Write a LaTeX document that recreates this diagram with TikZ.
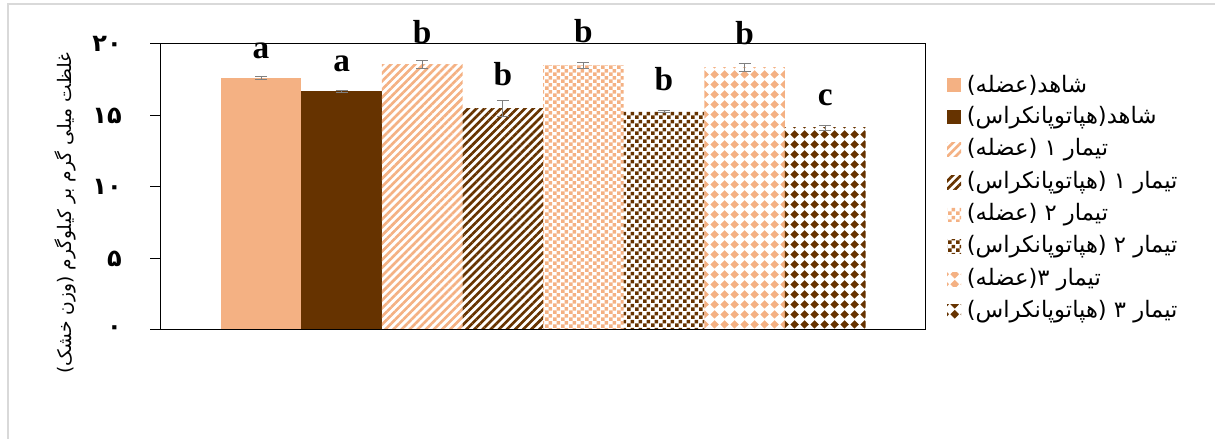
\documentclass[tikz,border=0pt]{standalone}
\usepackage{fontspec}
\setmainfont{Liberation Serif}
\newfontfamily\arabicfont[Script=Arabic]{DejaVu Sans}
\TeXXeTstate=1
\usetikzlibrary{patterns.meta,positioning}

\definecolor{lightor}{RGB}{244,177,131}
\definecolor{darkbr}{RGB}{102,51,0}

\tikzdeclarepattern{
  name=checks, type=uncolored,
  bottom left={(0pt,0pt)}, top right={(5.6pt,5.6pt)}, tile size={(5.6pt,5.6pt)},
  code={\fill (0pt,0pt) rectangle (2.9pt,2.9pt); \fill (2.8pt,2.8pt) rectangle (5.6pt,5.6pt);}
}
\tikzdeclarepattern{
  name=diamonds, type=uncolored,
  bottom left={(0pt,0pt)}, top right={(7.5pt,7.5pt)}, tile size={(7.5pt,7.5pt)},
  code={\fill (3.75pt,0.3pt) -- (7.2pt,3.75pt) -- (3.75pt,7.2pt) -- (0.3pt,3.75pt) -- cycle;}
}

\tikzset{
  muscle0/.style={fill=lightor},
  hepa0/.style={fill=darkbr},
  muscle1/.style={pattern={Lines[angle=45,distance=4.3pt,line width=2pt]},pattern color=lightor},
  hepa1/.style={pattern={Lines[angle=45,distance=4.3pt,line width=2pt]},pattern color=darkbr},
  muscle2/.style={pattern=checks,pattern color=lightor},
  hepa2/.style={pattern=checks,pattern color=darkbr},
  muscle3/.style={pattern=diamonds,pattern color=lightor},
  hepa3/.style={pattern=diamonds,pattern color=darkbr},
  errbar/.style={gray,line width=0.7pt},
  grpletter/.style={font=\fontsize{25}{25}\selectfont\bfseries,anchor=base,inner sep=0pt},
  ticklab/.style={font=\arabicfont\bfseries\fontsize{18}{20}\selectfont,anchor=east,inner sep=0pt},
  ylab/.style={font=\arabicfont\fontsize{14}{16}\selectfont,inner sep=0pt},
  legbox/.style={minimum size=10.5pt,inner sep=0pt},
  legtext/.style={font=\arabicfont\fontsize{17}{19}\selectfont,inner sep=0pt}
}

\begin{document}
\begin{tikzpicture}[x=0.75pt,y=0.75pt]
\useasboundingbox (0,0) rectangle (1215,439);

% outer frame
\draw[gray!30,line width=1.5pt] (8,0) |- (1215,435);

\begin{scope}[shift={(160,109)},y=10.725pt]
% bars with error bars and group letters
\foreach \v/\e/\s/\l/\ly [count=\i] in {17.6/0.1/muscle0/a/19.02, 16.7/0.07/hepa0/a/18.06,
    18.58/0.28/muscle1/b/20.05, 15.5/0.55/hepa1/b/17.13, 18.5/0.19/muscle2/b/20.07,
    15.27/0.05/hepa2/b/16.78, 18.37/0.27/muscle3/b/19.93, 14.15/0.18/hepa3/c/15.73} {
  \pgfmathsetmacro\cx{60.7+(\i-0.5)*80.6}
  \path[\s] ({60.7+(\i-1)*80.6},0) rectangle ({60.7+\i*80.6},\v);
  \draw[errbar] (\cx-6,\v+\e) -- (\cx+6,\v+\e) (\cx,\v+\e) -- (\cx,\v-\e) (\cx-6,\v-\e) -- (\cx+6,\v-\e);
  \node[grpletter] (g\i) at (\cx,\ly) {\l};
}

% axis box and ticks
\draw[line width=0.75pt] (0,0) rectangle (765,20);
\foreach \t/\d in {0/۰,5/۵,10/۱۰,15/۱۵,20/۲۰} {
  \draw[line width=0.75pt] (-10,\t) -- (0,\t);
  \node[ticklab] (t\t) at (-38,\t) {\d};
}
\node[ylab,rotate=90] (yl) at (-95,8.18) {\beginR غلظت میلی گرم بر کیلوگرم (وزن خشک)\endR};
\end{scope}

% legend
\node[legbox,muscle0] (k1) at (954,354) {};
\node[legbox,hepa0,below=13.4pt of k1] (k2) {};
\node[legbox,muscle1,below=13.4pt of k2] (k3) {};
\node[legbox,hepa1,below=13.4pt of k3] (k4) {};
\node[legbox,muscle2,below=13.4pt of k4] (k5) {};
\node[legbox,hepa2,below=13.4pt of k5] (k6) {};
\node[legbox,muscle3,below=13.4pt of k6] (k7) {};
\node[legbox,hepa3,below=13.4pt of k7] (k8) {};

\node[legtext,right=4pt of k1] (n1) {\beginR شاهد(عضله)\endR};
\node[legtext,right=4pt of k2] (n2) {\beginR شاهد(هپاتوپانکراس)\endR};
\node[legtext,right=4pt of k3] (n3) {\beginR تیمار ۱ (عضله)\endR};
\node[legtext,right=4pt of k4] (n4) {\beginR تیمار ۱ (هپاتوپانکراس)\endR};
\node[legtext,right=4pt of k5] (n5) {\beginR تیمار ۲ (عضله)\endR};
\node[legtext,right=4pt of k6] (n6) {\beginR تیمار ۲ (هپاتوپانکراس)\endR};
\node[legtext,right=4pt of k7] (n7) {\beginR تیمار ۳(عضله)\endR};
\node[legtext,right=4pt of k8] (n8) {\beginR تیمار ۳ (هپاتوپانکراس)\endR};
\end{tikzpicture}
\end{document}
